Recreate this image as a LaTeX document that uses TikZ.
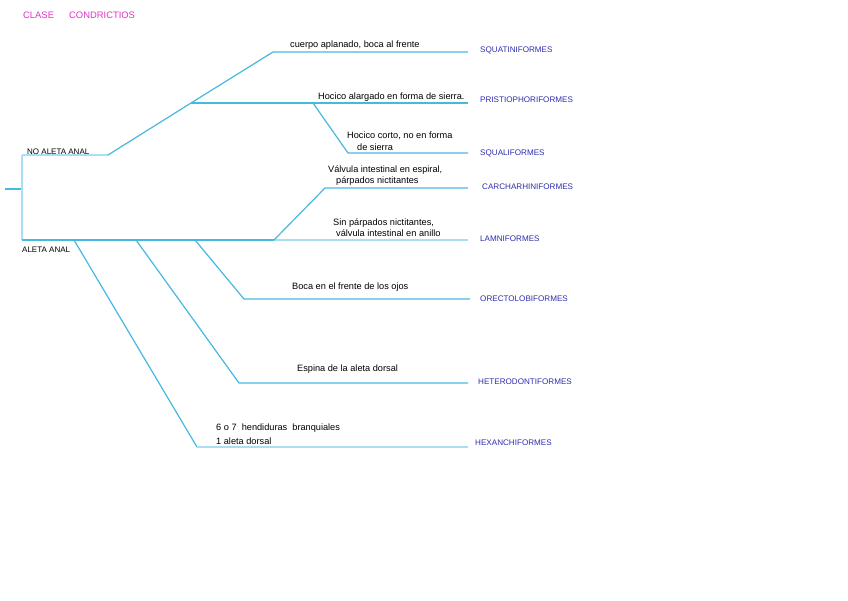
\documentclass[tikz,border=0pt]{standalone}
\usepackage{fontspec}
\setmainfont{Liberation Sans}
\definecolor{lineblue}{RGB}{70,185,225}
\definecolor{linepale}{RGB}{170,222,240}
\definecolor{ordblue}{RGB}{45,45,175}
\definecolor{mag}{RGB}{228,50,200}
\begin{document}
\begin{tikzpicture}[x=1pt,y=-1pt,
  br/.style={draw=lineblue, line width=1.2pt},
  brl/.style={draw=linepale, line width=1.2pt},
  note/.style={font=\fontsize{9.2}{11.5}\selectfont, text=black, anchor=west, inner sep=0pt, align=left},
  grp/.style={font=\fontsize{8}{9}\selectfont, text=black, anchor=west, inner sep=0pt},
  ord/.style={font=\fontsize{8.1}{9}\selectfont, text=ordblue, anchor=west, inner sep=0pt},
  ttl/.style={font=\fontsize{9.4}{10}\selectfont, text=mag, anchor=west, inner sep=0pt}]
\useasboundingbox[fill=white] (0,0) rectangle (848,601);

% title
\node[ttl] (t1) at (23,15) {CLASE};
\node[ttl] (t2) at (69,15) {CONDRICTIOS};

% coordinates of the tree
\coordinate (r0) at (5,189);
\coordinate (r1) at (22,189);
\coordinate (vt) at (22,155);
\coordinate (vb) at (22,240);
\coordinate (a0) at (108,155);
\coordinate (a1) at (191,103);
\coordinate (a2) at (273,52);
\coordinate (e1) at (468,52);
\coordinate (e2) at (468,103);
\coordinate (b0) at (313,103);
\coordinate (b1) at (348,153);
\coordinate (e3) at (468,153);
\coordinate (c0) at (274,240);
\coordinate (c1) at (325,188);
\coordinate (e4) at (468,188);
\coordinate (e5) at (468,240);
\coordinate (d0) at (195,240);
\coordinate (d1) at (244,299);
\coordinate (e6) at (470,299);
\coordinate (f0) at (136,240);
\coordinate (f1) at (239,383);
\coordinate (e7) at (468,383);
\coordinate (g0) at (74,240);
\coordinate (g1) at (197,447);
\coordinate (e8) at (468,447);

% lines
\draw[br] (r0) -- (r1);
\draw[brl] (vt) -- (vb);
\draw[brl] (vt) -- (a0);
\draw[br] (a0) -- (a1) -- (a2) -- (e1);
\draw[br] (a1) -- (e2);
\draw[br] (b0) -- (b1) -- (e3);
\draw[br] (vb) -- (c0);
\draw[brl] (c0) -- (e5);
\draw[br] (c0) -- (c1) -- (e4);
\draw[br] (d0) -- (d1) -- (e6);
\draw[br] (f0) -- (f1) -- (e7);
\draw[br] (g0) -- (g1);
\draw[brl] (g1) -- (e8);

% group labels
\node[grp] (na) at (27,152) {NO ALETA ANAL};
\node[grp] (aa) at (22,250) {ALETA ANAL};

% characters
\node[note] (n1) at (290,45) {cuerpo aplanado, boca al frente};
\node[note] (n2) at (318,97) {Hocico alargado en forma de sierra.};
\node[note] (n3) at (347,141) {Hocico corto, no en forma\\\hspace*{10pt}de sierra};
\node[note] (n4) at (328,175.5) {Válvula intestinal en espiral,\\\hspace*{8pt}párpados nictitantes};
\node[note] (n5) at (333,227.5) {Sin párpados nictitantes,\\\hspace*{3pt}válvula intestinal en anillo};
\node[note] (n6) at (292,287) {Boca en el frente de los ojos};
\node[note] (n7) at (297,369) {Espina de la aleta dorsal};
\node[note, font=\fontsize{9.2}{14}\selectfont] (n8) at (216,434) {6 o 7 \ hendiduras \ branquiales\\1 aleta dorsal};

% orders
\node[ord] (o1) at (480,50) {SQUATINIFORMES};
\node[ord] (o2) at (480,100) {PRISTIOPHORIFORMES};
\node[ord] (o3) at (480,153) {SQUALIFORMES};
\node[ord] (o4) at (482,187) {CARCHARHINIFORMES};
\node[ord] (o5) at (480,239) {LAMNIFORMES};
\node[ord] (o6) at (480,299) {ORECTOLOBIFORMES};
\node[ord] (o7) at (478,382) {HETERODONTIFORMES};
\node[ord] (o8) at (475,443) {HEXANCHIFORMES};
\end{tikzpicture}
\end{document}
